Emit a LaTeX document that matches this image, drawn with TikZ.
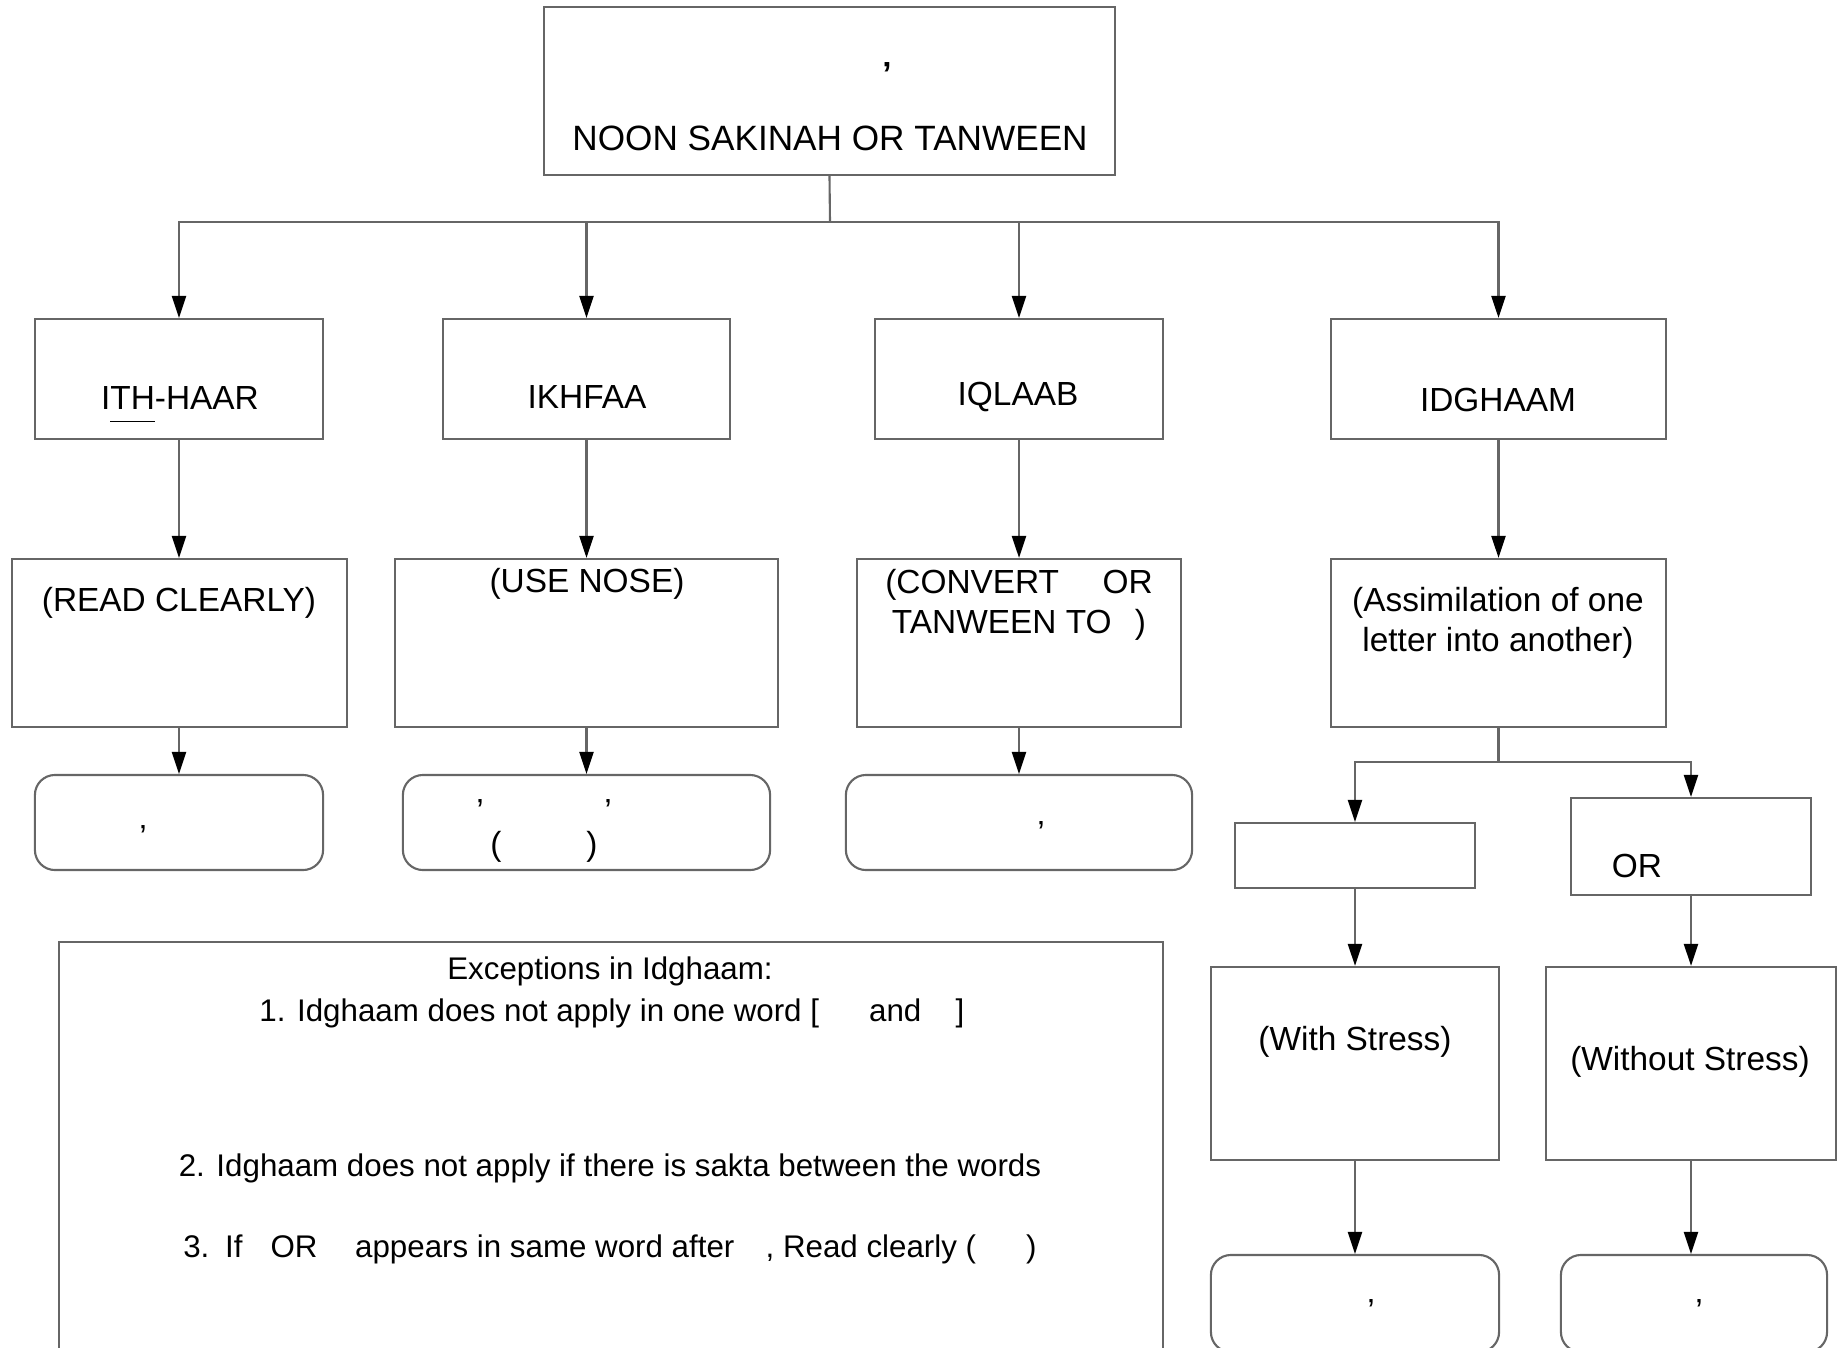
\documentclass[tikz,border=0pt]{standalone}
\usepackage{fontspec}
\setmainfont{Liberation Sans}
\usetikzlibrary{arrows.meta}

\begin{document}
\begin{tikzpicture}[x=0.01cm, y=-0.01cm, font=\fontsize{9.5}{11.5}\selectfont,
	box/.style={draw=black!60, line width=0.6pt, inner sep=0pt},
	rbox/.style={box, rounded corners=2mm},
	txt/.style={inner sep=0pt, align=center},
	exctxt/.style={txt, font=\fontsize{8.9}{11}\selectfont},
	line/.style={draw=black!60, line width=0.6pt},
	arr/.style={line, -{Triangle[length=2.2mm, width=1.4mm, black]}}]
		\useasboundingbox (0,0) rectangle (1844,1348);

		% top box
		\node[box, minimum width=5.71cm, minimum height=1.68cm] (top) at (829.5,91) {};
		\node[txt] (topmark) at (887,74) {\textbf{'}};
		\node[txt, font=\fontsize{10}{12}\selectfont] (toptext) at (830,138) {NOON SAKINAH OR TANWEEN};

		% four rules
		\node[box, minimum width=2.88cm, minimum height=1.2cm] (ith) at (179,379) {};
		\node[box, minimum width=2.87cm, minimum height=1.2cm] (ikh) at (586.5,379) {};
		\node[box, minimum width=2.88cm, minimum height=1.2cm] (iql) at (1019,379) {};
		\node[box, minimum width=3.35cm, minimum height=1.2cm] (idg) at (1498.5,379) {};
		\node[txt] (ithtext) at (180,405) {I\underline{TH\vphantom{y}}-HAAR};
		\node[txt] (ikhtext) at (587,397) {IKHFAA};
		\node[txt] (iqltext) at (1018,397) {IQLAAB};
		\node[txt] (idgtext) at (1498,400) {IDGHAAM};

		% meanings
		\node[box, minimum width=3.35cm, minimum height=1.68cm] (read) at (179.5,643) {};
		\node[box, minimum width=3.83cm, minimum height=1.68cm] (nose) at (586.5,643) {};
		\node[box, minimum width=3.24cm, minimum height=1.68cm] (conv) at (1019,643) {};
		\node[box, minimum width=3.35cm, minimum height=1.68cm] (assim) at (1498.5,643) {};
		\node[txt] (readtext) at (179,603) {(READ CLEARLY)};
		\node[txt] (nosetext) at (587,584) {(USE NOSE)};
		\node[txt] (convtext) at (1019,605) {(CONVERT\hspace{1.3em}OR\\TANWEEN TO\hspace{0.7em})};
		\node[txt] (assimtext) at (1498,623) {(Assimilation of one\\letter into another)};

		% letters
		\node[rbox, minimum width=2.88cm, minimum height=0.95cm] (let1) at (179,822.5) {};
		\node[rbox, minimum width=3.67cm, minimum height=0.95cm] (let2) at (586.5,822.5) {};
		\node[rbox, minimum width=3.46cm, minimum height=0.95cm] (let3) at (1019,822.5) {};
		\node[txt] (let1mark) at (143,837) {'};
		\node[txt] (let2marka) at (480,811) {'};
		\node[txt] (let2markb) at (608,811) {'};
		\node[txt] (let2open) at (496,847) {(};
		\node[txt] (let2close) at (592,847) {)};
		\node[txt] (let3mark) at (1041,833) {'};

		% idghaam branches
		\node[box, minimum width=2.40cm, minimum height=0.65cm] (withg) at (1355,855.5) {};
		\node[box, minimum width=2.40cm, minimum height=0.97cm] (withoutg) at (1691,846.5) {};
		\node[txt] (ortext) at (1637,866) {OR};
		\node[box, minimum width=2.88cm, minimum height=1.93cm] (stress) at (1355,1063.5) {};
		\node[box, minimum width=2.90cm, minimum height=1.93cm] (nostress) at (1691,1063.5) {};
		\node[txt] (stresstext) at (1355,1042) {(With Stress)};
		\node[txt] (nostresstext) at (1690,1062) {(Without Stress)};
		\node[rbox, minimum width=2.88cm, minimum height=0.97cm] (let4) at (1355,1303.5) {};
		\node[rbox, minimum width=2.66cm, minimum height=0.97cm] (let5) at (1694,1303.5) {};
		\node[txt] (let4mark) at (1371,1311) {'};
		\node[txt] (let5mark) at (1699,1311) {'};

		% exceptions
		\node[box, minimum width=11.04cm, minimum height=4.2cm] (exc) at (611,1152) {};
		\node[exctxt] (exc0) at (610,971) {Exceptions in Idghaam:};
		\node[exctxt] (exc1) at (612,1013) {1. Idghaam does not apply in one word [\hspace{1.6em}and\hspace{1.1em}]};
		\node[exctxt] (exc2) at (610,1168) {2. Idghaam does not apply if there is sakta between the words};
		\node[exctxt] (exc3) at (610,1249) {3.\enspace If\hspace{0.9em}OR\hspace{1.2em}appears in same word after\hspace{1em}, Read clearly (\hspace{1.6em})};

		% connectors
		\coordinate (fork) at (830,222);
		\draw[line] (top.south) -- (fork);
		\draw[arr] (fork) -| (ith.north);
		\draw[arr] (fork) -| (ikh.north);
		\draw[arr] (fork) -| (iql.north);
		\draw[arr] (fork) -| (idg.north);

		\draw[arr] (ith.south) -- (ith.south |- read.north);
		\draw[arr] (ikh.south) -- (ikh.south |- nose.north);
		\draw[arr] (iql.south) -- (iql.south |- conv.north);
		\draw[arr] (idg.south) -- (idg.south |- assim.north);

		\draw[arr] (read.south -| ith.south) -- (let1.north);
		\draw[arr] (nose.south) -- (let2.north);
		\draw[arr] (conv.south) -- (let3.north);

		\coordinate (fork2) at (1498.5,762);
		\draw[line] (assim.south) -- (fork2);
		\draw[arr] (fork2) -| (withg.north);
		\draw[arr] (fork2) -| (withoutg.north);
		\draw[arr] (withg.south) -- (stress.north);
		\draw[arr] (withoutg.south) -- (nostress.north);
		\draw[arr] (stress.south) -- (let4.north);
		\draw[arr] (nostress.south) -- (nostress.south |- let5.north);
\end{tikzpicture}
\end{document}
